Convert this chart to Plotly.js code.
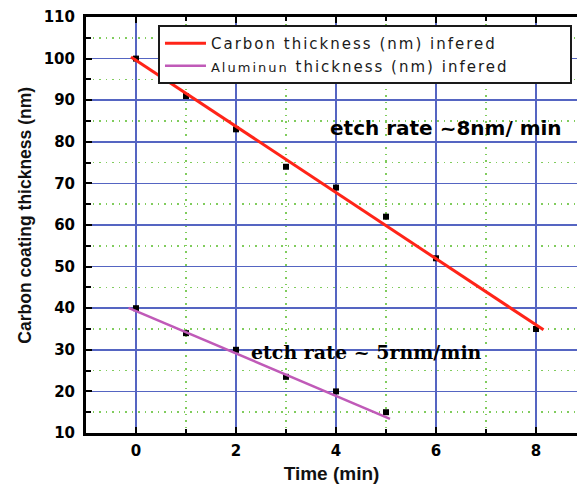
<!DOCTYPE html>
<html>
<head>
<meta charset="utf-8">
<script src="https://cdn.plot.ly/plotly-3.0.1.min.js"></script>
<style>html,body{margin:0;padding:0;background:#fff;}</style>
</head>
<body>
<div id="chart" style="width:577px;height:486px;"></div>
<script>
// Data
const timeCarbon = [0, 1, 2, 3, 4, 5, 6, 8];
const carbonThickness = [100, 91, 83, 74, 69, 62, 52, 35];
const timeAluminum = [0, 1, 2, 3, 4, 5];
const aluminumThickness = [40, 34, 30, 23.5, 20, 15];
// Fitted lines (end points)
const carbonFitX = [-0.1, 8.15];
const carbonFitY = [100.4, 34.8];
const aluminumFitX = [-0.15, 5.08];
const aluminumFitY = [40.1, 13.4];
// Tick values
const xTickVals = [0, 2, 4, 6, 8];
const yTickVals = [10, 20, 30, 40, 50, 60, 70, 80, 90, 100, 110];
// Texts
const carbonLabel = 'Carbon thickness (nm) infered';
const aluminumWord = 'Aluminun';
const aluminumRest = ' thickness (nm) infered';
const rateCarbon = 'etch rate ~8nm/ min';
const rateAluminum = 'etch rate ~ 5rnm/min';
const xTitle = 'Time (min)';
const yTitle = 'Carbon coating thickness (nm)';

const majorGrid = '#5565c2';
const minorGrid = '#80cc5c';
const tickFont = {family: 'DejaVu Sans, sans-serif', size: 15, color: '#000', weight: 'bold'};
const pad = '&nbsp;'.repeat(10);

const traces = [
  {x: timeCarbon, y: carbonThickness, mode: 'markers', type: 'scatter', showlegend: false,
   marker: {symbol: 'square', size: 6, color: '#000'}},
  {x: timeAluminum, y: aluminumThickness, mode: 'markers', type: 'scatter', showlegend: false,
   marker: {symbol: 'square', size: 6, color: '#000'}},
  {x: carbonFitX, y: carbonFitY, mode: 'lines', type: 'scatter',
   name: '<span style="letter-spacing:2px">' + carbonLabel + pad + '</span>',
   line: {color: '#ff2418', width: 3}},
  {x: aluminumFitX, y: aluminumFitY, mode: 'lines', type: 'scatter',
   name: '<span style="letter-spacing:2px"><span style="font-size:13px">' + aluminumWord + '</span>' + aluminumRest + '</span>',
   line: {color: '#c05ab8', width: 2.5}},
  {x: [], y: [], xaxis: 'x2', yaxis: 'y', showlegend: false, hoverinfo: 'skip', type: 'scatter', mode: 'lines'}
];

const layout = {
  width: 577, height: 486,
  margin: {l: 86, r: 0, t: 17, b: 53, pad: 0},
  paper_bgcolor: '#fff', plot_bgcolor: '#fff',
  showlegend: true,
  legend: {
    x: 0.1466, y: 0.981, xanchor: 'left', yanchor: 'top',
    bgcolor: '#fff', bordercolor: '#1a1a1a', borderwidth: 2,
    font: {family: 'DejaVu Sans, sans-serif', size: 15, color: '#1a1a1a'},
    itemwidth: 41, tracegroupgap: 0
  },
  xaxis: {
    range: [-1, 8.82], tickmode: 'array', tickvals: xTickVals, ticktext: xTickVals.map(String),
    showgrid: true, gridcolor: majorGrid, gridwidth: 1.5, zeroline: false,
    showline: true, linecolor: '#000', linewidth: 3,
    ticks: 'inside', ticklen: 6, tickwidth: 2, tickcolor: '#000',
    tickfont: tickFont, ticklabelstandoff: 2,
    minor: {dtick: 1, tick0: 0, ticks: 'inside', ticklen: 4, tickwidth: 2, tickcolor: '#000',
            showgrid: true, gridcolor: minorGrid, griddash: '1.5px,5px', gridwidth: 1.5},
    title: {text: xTitle, standoff: 8,
            font: {family: 'Liberation Sans, Arial, sans-serif', size: 19, color: '#111', weight: 'bold'}},
    automargin: false
  },
  xaxis2: {
    overlaying: 'x', matches: 'x', side: 'top', anchor: 'y',
    showgrid: false, zeroline: false, showticklabels: false,
    showline: true, linecolor: '#000', linewidth: 3,
    tickmode: 'array', tickvals: xTickVals,
    ticks: 'inside', ticklen: 6, tickwidth: 2, tickcolor: '#000',
    minor: {dtick: 1, tick0: 0, ticks: 'inside', ticklen: 4, tickwidth: 2, tickcolor: '#000', showgrid: false},
    automargin: false
  },
  yaxis: {
    range: [10, 110], tickmode: 'array', tickvals: yTickVals, ticktext: yTickVals.map(String),
    showgrid: true, gridcolor: majorGrid, gridwidth: 1.5, zeroline: false,
    showline: true, linecolor: '#000', linewidth: 3,
    ticks: 'inside', ticklen: 6, tickwidth: 2, tickcolor: '#000',
    tickfont: tickFont, ticklabelstandoff: 5,
    minor: {dtick: 5, tick0: 0, ticks: 'inside', ticklen: 5, tickwidth: 2, tickcolor: '#000',
            showgrid: true, gridcolor: minorGrid, griddash: '1.5px,5px', gridwidth: 1.5},
    title: {text: '&nbsp;&nbsp;&nbsp;&nbsp;' + yTitle, standoff: 8,
            font: {family: 'Liberation Sans, Arial, sans-serif', size: 17.5, color: '#111', weight: 'bold'}},
    automargin: false
  },
  annotations: [
    {x: 6.2, y: 83.3, xref: 'x', yref: 'y', text: rateCarbon, showarrow: false,
     font: {family: 'DejaVu Sans, sans-serif', size: 20, color: '#000', weight: 'bold'}},
    {x: 4.61, y: 29.5, xref: 'x', yref: 'y', text: rateAluminum, showarrow: false,
     font: {family: 'DejaVu Serif, serif', size: 19, color: '#000', weight: 'bold'}}
  ]
};

Plotly.newPlot('chart', traces, layout, {displayModeBar: false, staticPlot: true});
</script>
</body>
</html>
